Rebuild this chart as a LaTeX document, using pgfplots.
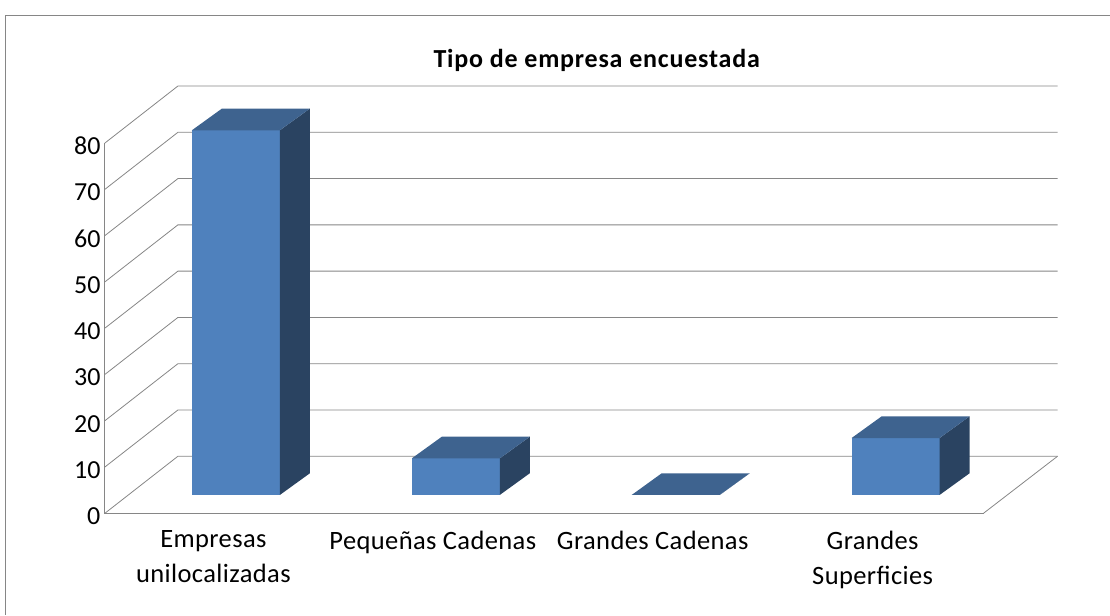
\documentclass[border=0pt]{standalone}
\usepackage{pgfplots}
\pgfplotsset{compat=1.18}
\usepackage{fontspec}
\setmainfont{Carlito}
\newfontface\spacedbold[LetterSpace=3.1]{Carlito Bold}
\newfontface\spacedreg[LetterSpace=1.5]{Carlito}

\definecolor{barfront}{HTML}{4F81BD}
\definecolor{bartop}{HTML}{3E638F}
\definecolor{barside}{HTML}{2A4361}
\definecolor{gridgray}{HTML}{868686}

% one fake 3D column: left x of front face, value
\newcommand{\columnbar}[2]{%
  \pgfmathsetmacro\xr{#1+88}
  \pgfmathsetmacro\xlb{#1+30}
  \pgfmathsetmacro\xrb{#1+118}
  \pgfmathsetmacro\ytop{#2+3.95}
  \pgfmathsetmacro\ytopb{#2+8.63}
  \addplot[draw=none,fill=barfront] coordinates {(#1,3.95) (\xr,3.95) (\xr,\ytop) (#1,\ytop)} --cycle;
  \addplot[draw=none,fill=barside] coordinates {(\xr,3.95) (\xrb,8.63) (\xrb,\ytopb) (\xr,\ytop)} --cycle;
  \addplot[draw=none,fill=bartop] coordinates {(#1,\ytop) (\xr,\ytop) (\xrb,\ytopb) (\xlb,\ytopb)} --cycle;
}

% one gridline over side wall and back wall
\newcommand{\gridline}[1]{%
  \pgfmathsetmacro\yb{#1+12.31}
  \addplot[gridgray,line width=0.8pt] coordinates {(105,#1) (178,\yb) (1058,\yb)};
}

\begin{document}
\begin{tikzpicture}
  \begin{axis}[
    scale only axis,
    width=953pt, height=427.4pt,
    xmin=105, xmax=1058,
    ymin=0, ymax=92.31,
    clip=false,
    axis line style={draw=none},
    major tick length=0pt,
    ytick={0,10,...,80},
    xtick={213.5,433,653,873},
    xticklabels={Empresas\\unilocalizadas,Pequeñas Cadenas,Grandes Cadenas,Grandes\\Superficies},
    xticklabel style={align=center,font=\fontsize{26.5}{35}\spacedreg,anchor=north,yshift=-14pt},
    yticklabel style={font=\fontsize{26}{30}\selectfont,anchor=east,xshift=-1pt,yshift=-3pt},
    /pgf/number format/assume math mode=true,
  ]
    % page and frame, in pixels of the reference mapped to the axis
    \path (axis cs:0,-21.9) rectangle (axis cs:1110,110.9);
    \draw[gridgray,line width=1pt] (axis cs:6,-21.9) -- (axis cs:6,107.56) -- (axis cs:1110,107.56);

    \gridline{0}\gridline{10}\gridline{20}\gridline{30}\gridline{40}
    \gridline{50}\gridline{60}\gridline{70}\gridline{80}
    \addplot[gridgray,line width=0.8pt] coordinates {(984,0) (1058,12.31)};
    \addplot[gridgray,line width=1pt] coordinates {(105,80) (105,0) (984,0)};

    \columnbar{192}{78.8}
    \columnbar{412}{7.9}
    \columnbar{632}{0}
    \columnbar{852}{12.3}

    \node[font=\fontsize{26}{30}\spacedbold] at (axis cs:597,97.9) {Tipo de empresa encuestada};
  \end{axis}
\end{tikzpicture}
\end{document}
